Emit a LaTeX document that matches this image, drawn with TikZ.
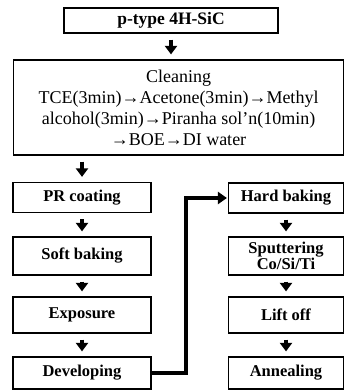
\documentclass[tikz,border=0pt]{standalone}
\usepackage{fontspec}
\setmainfont{Liberation Serif}
\usetikzlibrary{arrows.meta,positioning}
\tikzset{%
  font=\fontsize{16.5}{15}\selectfont\bfseries,
  stage/.style={draw,rectangle,line width=1.2pt,inner sep=0pt,align=center,minimum width=138pt},
  rstage/.style={stage,minimum width=115pt},
  flow/.style={draw,line width=4.5pt,-{Triangle[width=12pt,length=8.5pt]},shorten <=6pt,shorten >=5pt},
  bus/.style={draw,line width=4pt,-{Triangle[width=12pt,length=9pt]},shorten >=1pt}
}
\begin{document}
\begin{tikzpicture}[x=1pt,y=-1pt,
	wide/.style={draw,rectangle,line width=1.2pt,inner sep=0pt,align=center,%
		font=\fontsize{18}{21}\selectfont}]
	\useasboundingbox (0,0) rectangle (345,390);
	% substrate and cleaning
	\node[stage,minimum width=214pt,minimum height=25pt,font=\fontsize{17.5}{15}\selectfont\bfseries]
		(sic) at (171,20.5) {p-type 4H-SiC};
	\node[wide,minimum width=330pt,minimum height=95pt] (clean) at (178.5,107.5)
		{Cleaning\\ TCE(3min)→Acetone(3min)→Methyl\\
		 alcohol(3min)→Piranha sol'n(10min)\\ →BOE→DI water};
	% lithography
	\node[stage,minimum height=30pt] (pr) at (82,197.5) {PR coating};
	\node[stage,minimum height=38pt] (soft) at (82,256) {Soft baking};
	\node[stage,minimum height=36pt] (expo) at (82,315) {Exposure};
	\node[stage,minimum height=32pt] (dev) at (82,373) {Developing};
	% metal
	\node[rstage,minimum height=30pt] (hard) at (286,198) {Hard baking};
	\node[rstage,minimum height=38pt] (sput) at (286,256) {Sputtering\\ Co/Si/Ti};
	\node[rstage,minimum height=36pt] (lift) at (286,315) {Lift off};
	\node[rstage,minimum height=32pt] (anneal) at (286,373) {Annealing};
	\path[flow] (sic) -- (sic |- clean.north);
	\path[flow] (clean.south -| pr) -- (pr);
	\foreach \a/\b in {pr/soft,soft/expo,expo/dev,hard/sput,sput/lift,lift/anneal}
		\path[flow] (\a) -- (\b);
	\path[bus] (dev.east) -- ++(34,0) |- (hard.west);
\end{tikzpicture}
\end{document}
